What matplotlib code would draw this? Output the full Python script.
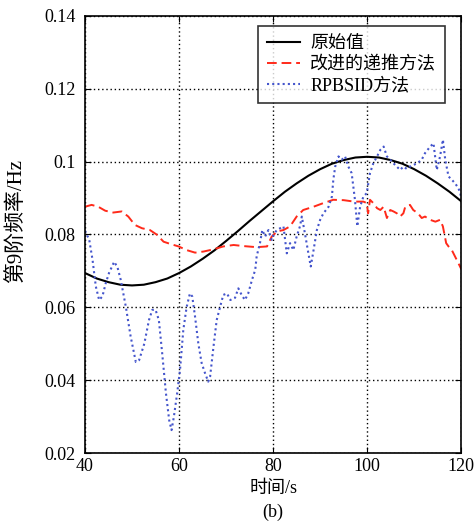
import numpy as np
import matplotlib
matplotlib.use('Agg')
import matplotlib.pyplot as plt

plt.rcParams['font.family'] = ['Liberation Serif', 'Noto Sans CJK SC', 'DejaVu Sans']

# original value (smooth curve, read every 2.5 s)
orig_t = [40, 42.5, 45, 47.5, 50, 52.5, 55, 57.5, 60, 62.5, 65, 67.5, 70, 72.5, 75, 77.5,
          80, 82.5, 85, 87.5, 90, 92.5, 95, 97.5, 100, 102.5, 105, 107.5, 110, 112.5, 115, 117.5, 120]
orig_v = [0.0694, 0.0679, 0.0669, 0.0662, 0.0660, 0.0662, 0.0669, 0.0679, 0.0694, 0.0712, 0.0733,
          0.0756, 0.0782, 0.0809, 0.0837, 0.0864, 0.0891, 0.0917, 0.0940, 0.0961, 0.0979, 0.0994,
          0.1004, 0.1011, 0.1013, 0.1011, 0.1004, 0.0994, 0.0979, 0.0961, 0.0940, 0.0917, 0.0891]

# improved recursive method
red_t = [40.0, 41.4, 42.8, 44.3, 46.0, 47.8, 49.2, 50.6, 52.1, 53.8, 55.3, 56.7, 58.1, 59.9,
         61.6, 63.4, 65.2, 67.3, 69.4, 71.6, 73.7, 76.5, 78.7, 79.7, 80.8, 82.2, 83.6, 85.0,
         86.4, 88.6, 90.7, 92.8, 95.0, 97.2, 99.2, 99.9, 100.2, 100.6, 101.3, 102.1, 102.8,
         103.5, 104.2, 104.9, 105.6, 106.3, 107.0, 107.7, 108.1, 109.1, 109.8, 110.8, 111.6,
         112.3, 113.4, 114.5, 115.5, 116.1, 116.8, 117.3, 118.0, 118.7, 119.4, 120.0]
red_v = [0.0876, 0.0881, 0.0876, 0.0865, 0.0860, 0.0863, 0.0849, 0.0826, 0.0817, 0.0812, 0.0799,
         0.0780, 0.0774, 0.0767, 0.0757, 0.0750, 0.0753, 0.0759, 0.0767, 0.0771, 0.0768, 0.0765,
         0.0767, 0.0794, 0.0808, 0.0812, 0.0822, 0.0849, 0.0867, 0.0876, 0.0886, 0.0895, 0.0894,
         0.0890, 0.0890, 0.0886, 0.0858, 0.0895, 0.0886, 0.0872, 0.0867, 0.0876, 0.0845, 0.0867,
         0.0863, 0.0858, 0.0849, 0.0858, 0.0876, 0.0881, 0.0867, 0.0858, 0.0845, 0.0849, 0.0840,
         0.0835, 0.0840, 0.0822, 0.0776, 0.0767, 0.0757, 0.0739, 0.0721, 0.0705]

# RPBSID method
blue_t = [40.0, 40.9, 41.6, 42.3, 43.0, 43.7, 44.4, 45.1, 46.2, 46.9, 47.6, 48.7, 49.7, 50.8,
          51.5, 52.6, 53.6, 54.3, 55.0, 55.7, 56.4, 57.2, 57.9, 58.4, 58.9, 59.6, 60.2, 60.9,
          61.6, 62.3, 62.8, 63.4, 64.1, 64.8, 65.5, 66.2, 66.6, 67.3, 68.0, 68.7, 69.4, 70.2,
          70.9, 71.9, 72.6, 73.3, 74.0, 74.7, 75.5, 76.2, 76.5, 77.2, 77.7, 78.3, 79.0, 79.7,
          80.1, 80.8, 81.5, 82.2, 82.9, 83.6, 84.3, 85.0, 85.7, 86.1, 86.8, 87.5, 88.0, 88.6,
          89.3, 90.0, 90.7, 91.8, 92.5, 92.8, 93.2, 93.9, 94.6, 95.3, 96.0, 96.7, 97.4, 97.9,
          98.5, 99.2, 99.9, 100.6, 101.3, 102.1, 102.8, 103.5, 104.2, 104.9, 105.6, 106.3,
          107.0, 107.7, 108.4, 109.1, 110.6, 111.6, 112.3, 113.4, 114.1, 114.8, 115.5, 116.1,
          116.6, 117.3, 118.0, 118.7, 119.4, 119.8, 120.0]
blue_v = [0.0810, 0.0785, 0.0730, 0.0657, 0.0620, 0.0630, 0.0666, 0.0694, 0.0725, 0.0710, 0.0675,
          0.0600, 0.0520, 0.0450, 0.0455, 0.0500, 0.0565, 0.0593, 0.0593, 0.0565, 0.0475, 0.0365,
          0.0290, 0.0263, 0.0300, 0.0365, 0.0428, 0.0538, 0.0600, 0.0638, 0.0630, 0.0574, 0.0500,
          0.0447, 0.0420, 0.0396, 0.0410, 0.0490, 0.0565, 0.0600, 0.0634, 0.0638, 0.0620, 0.0626,
          0.0652, 0.0634, 0.0620, 0.0638, 0.0675, 0.0703, 0.0740, 0.0776, 0.0812, 0.0794, 0.0812,
          0.0785, 0.0800, 0.0812, 0.0817, 0.0822, 0.0748, 0.0776, 0.0757, 0.0794, 0.0822, 0.0849,
          0.0800, 0.0748, 0.0712, 0.0757, 0.0812, 0.0840, 0.0858, 0.0876, 0.0904, 0.0950, 0.0986,
          0.1014, 0.1005, 0.1014, 0.0986, 0.0968, 0.0895, 0.0822, 0.0876, 0.0904, 0.0913, 0.0968,
          0.0995, 0.1014, 0.1032, 0.1041, 0.1014, 0.1005, 0.0995, 0.0986, 0.0977, 0.0986, 0.0980,
          0.0986, 0.0995, 0.1005, 0.1023, 0.1041, 0.1050, 0.0977, 0.1014, 0.1060, 0.1005, 0.0959,
          0.0950, 0.0940, 0.0927, 0.0913, 0.0900]

fig = plt.figure(figsize=(4.75, 5.25), dpi=100)
ax = fig.add_axes([0.179, 0.137, 0.792, 0.833])

ax.plot(orig_t, orig_v, color='black', lw=1.5, label='原始值')
ax.plot(red_t, red_v, color='#ff2a1a', lw=1.4, linestyle=(0, (5, 2.5)), label='改进的递推方法')
ax.plot(blue_t, blue_v, color='#4455cc', lw=1.5, linestyle=(0, (1, 1.5)), label='RPBSID方法')

ax.set_xlim(40, 120)
ax.set_ylim(0.02, 0.14)
ax.set_xticks([40, 60, 80, 100, 120])
ax.set_yticks([0.02, 0.04, 0.06, 0.08, 0.1, 0.12, 0.14])
ax.set_yticklabels(['0.02', '0.04', '0.06', '0.08', '0.1', '0.12', '0.14'])
ax.grid(True, color='black', linestyle=(0, (1, 2)), lw=1)
ax.tick_params(direction='in', top=True, right=True, length=4, labelsize=13)
ax.tick_params(axis='y', pad=7)
for s in ax.spines.values():
    s.set_linewidth(1.2)

ax.set_xlabel('时间/s', fontsize=13, labelpad=4)
ax.set_ylabel('第9阶频率/Hz', fontsize=15)
ax.yaxis.set_label_coords(-0.155, 0.53)
fig.text(0.575, 0.016, '(b)', ha='center', fontsize=13)

leg = ax.legend(loc='upper right', bbox_to_anchor=(0.958, 0.977), fontsize=13, frameon=True,
                fancybox=False, edgecolor='black', handlelength=1.8, borderpad=0.5,
                labelspacing=0.22, handletextpad=0.6, borderaxespad=0.0)
leg.get_frame().set_linewidth(1.2)

fig.savefig('out.png', dpi=100)
